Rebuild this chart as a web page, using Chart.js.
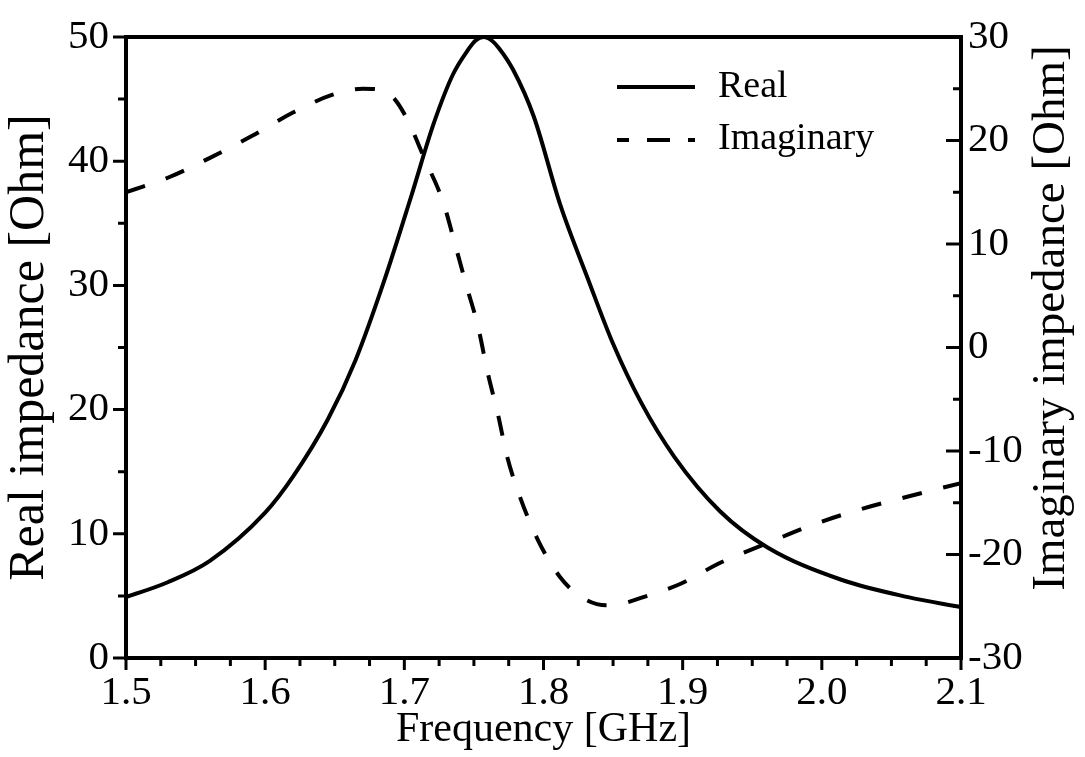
<!DOCTYPE html>
<html>
<head>
<meta charset="utf-8">
<script src="https://cdn.jsdelivr.net/npm/chart.js@4"></script>
<style>
  html, body { margin: 0; padding: 0; background: #fff; }
  #wrap { width: 1085px; height: 757px; }
</style>
</head>
<body>
<div id="wrap"><canvas id="myChart" width="1085" height="757"></canvas></div>
<script>
// values
const realFreq = [1.50, 1.53, 1.56, 1.60, 1.62, 1.645, 1.665, 1.685, 1.705, 1.721, 1.735, 1.746, 1.751, 1.757,
  1.763, 1.768, 1.778, 1.793, 1.812, 1.832, 1.850, 1.870, 1.894, 1.927, 1.961, 2.014, 2.062, 2.10];
const realOhm = [4.9, 6.1, 7.8, 11.7, 14.6, 19.2, 24.0, 30.2, 37.2, 43.0, 47.0, 49.0, 49.7, 50.0,
  49.7, 49.1, 47.4, 43.6, 36.5, 30.5, 25.3, 20.6, 16.2, 11.8, 8.9, 6.3, 4.9, 4.1];

const imagFreq = [1.50, 1.53, 1.56, 1.59, 1.62, 1.648, 1.67, 1.683, 1.693, 1.703, 1.714, 1.728, 1.737,
  1.745, 1.753, 1.760, 1.767, 1.774, 1.783, 1.796, 1.812, 1.827, 1.845, 1.858, 1.870, 1.899, 1.927,
  1.961, 1.990, 2.026, 2.062, 2.10];
const imagOhm = [15.0, 16.4, 18.3, 20.4, 22.7, 24.4, 25.0, 24.9, 24.0, 21.8, 18.4, 14.0, 9.7,
  5.8, 2.0, -2.5, -6.3, -10.6, -14.4, -18.6, -22.2, -24.1, -24.9, -24.7, -24.2, -22.8, -20.8,
  -18.9, -17.3, -15.7, -14.4, -13.1];

const seriesNames = ["Real", "Imaginary"];
const xTitle = "Frequency [GHz]";
const yTitle = "Real impedance [Ohm]";
const y2Title = "Imaginary impedance [Ohm]";

const serif = "'Liberation Serif', 'Times New Roman', serif";
const ctx = document.getElementById("myChart");

function toPoints(xs, ys) {
  return xs.map((x, i) => ({ x: x, y: ys[i] }));
}

// vertical axes: fixed width, no extra top/bottom padding from labels
function fixWidth(w) {
  return (s) => {
    s.width = w;
    s.paddingTop = 0;
    s.paddingBottom = 0;
  };
}

// frame, tick marks, legend and right title
const decorations = {
  id: "decorations",
  afterDraw(chart) {
    const c = chart.ctx;
    const a = chart.chartArea;
    const sx = chart.scales.x, sy = chart.scales.y, sy2 = chart.scales.y2;
    c.save();
    c.strokeStyle = "#000";
    c.lineCap = "butt";

    c.lineWidth = 3;
    c.beginPath();
    for (let i = 0; i <= 24; i++) {
      const px = sx.getPixelForValue(1.5 + i * 0.025);
      const len = i % 4 === 0 ? 12 : 8;
      c.moveTo(px, a.bottom);
      c.lineTo(px, a.bottom + len);
    }
    for (let i = 0; i <= 10; i++) {
      const py = sy.getPixelForValue(i * 5);
      const len = i % 2 === 0 ? 13 : 8;
      c.moveTo(a.left, py);
      c.lineTo(a.left - len, py);
    }
    for (let i = 0; i <= 12; i++) {
      const py = sy2.getPixelForValue(-30 + i * 5);
      const len = i % 2 === 0 ? 15 : 8;
      c.moveTo(a.right, py);
      c.lineTo(a.right - len, py);
    }
    c.stroke();

    c.lineWidth = 4;
    c.strokeRect(a.left, a.top, a.right - a.left, a.bottom - a.top);

    // legend inside the plot
    const lx = a.left + 491;
    c.lineWidth = 4;
    c.beginPath();
    c.moveTo(lx, 87);
    c.lineTo(lx + 78, 87);
    c.stroke();
    c.setLineDash([23, 18]);
    c.lineDashOffset = 11;
    c.beginPath();
    c.moveTo(lx, 140);
    c.lineTo(lx + 78, 140);
    c.stroke();
    c.setLineDash([]);

    c.fillStyle = "#000";
    c.font = "38px " + serif;
    c.textBaseline = "middle";
    c.textAlign = "left";
    c.fillText(seriesNames[0], lx + 101, 87);
    c.fillText(seriesNames[1], lx + 101, 139);

    // right axis title, reading bottom to top
    c.font = "47px " + serif;
    c.translate(1052, 318);
    c.rotate(-Math.PI / 2);
    c.textAlign = "center";
    c.fillText(y2Title, 0, 0);
    c.restore();
  }
};

new Chart(ctx, {
  type: "line",
  data: {
    datasets: [{
      label: seriesNames[0],
      data: toPoints(realFreq, realOhm),
      yAxisID: "y",
      borderColor: "#000",
      borderWidth: 4,
      pointRadius: 0,
      cubicInterpolationMode: "monotone",
      fill: false
    }, {
      label: seriesNames[1],
      data: toPoints(imagFreq, imagOhm),
      yAxisID: "y2",
      borderColor: "#000",
      borderWidth: 4,
      borderDash: [20, 22],
      pointRadius: 0,
      cubicInterpolationMode: "monotone",
      fill: false
    }]
  },
  options: {
    responsive: false,
    animation: false,
    events: [],
    layout: { padding: { top: 37, left: 0, right: 0, bottom: 0 } },
    plugins: {
      legend: { display: false },
      tooltip: { enabled: false }
    },
    scales: {
      x: {
        type: "linear",
        position: "bottom",
        min: 1.5,
        max: 2.1,
        afterFit: (s) => { s.height = 99; },
        grid: { display: false, drawTicks: false },
        border: { display: false },
        ticks: {
          stepSize: 0.1,
          padding: 11,
          color: "#000",
          font: { family: serif, size: 41 },
          callback: (v) => Number(v).toFixed(1)
        },
        title: {
          display: true,
          text: xTitle,
          color: "#000",
          font: { family: serif, size: 42 },
          padding: { top: 0, bottom: 2 }
        }
      },
      y: {
        position: "left",
        min: 0,
        max: 50,
        afterFit: fixWidth(126),
        grid: { display: false, drawTicks: false },
        border: { display: false },
        ticks: {
          stepSize: 10,
          padding: 17,
          color: "#000",
          font: { family: serif, size: 41 }
        },
        title: {
          display: true,
          text: yTitle,
          color: "#000",
          font: { family: serif, size: 50 },
          padding: { top: 0, bottom: 0 }
        }
      },
      y2: {
        position: "right",
        min: -30,
        max: 30,
        afterFit: fixWidth(124),
        grid: { display: false, drawTicks: false },
        border: { display: false },
        ticks: {
          stepSize: 10,
          padding: 7,
          color: "#000",
          font: { family: serif, size: 41 }
        }
      }
    }
  },
  plugins: [decorations]
});
</script>
</body>
</html>
